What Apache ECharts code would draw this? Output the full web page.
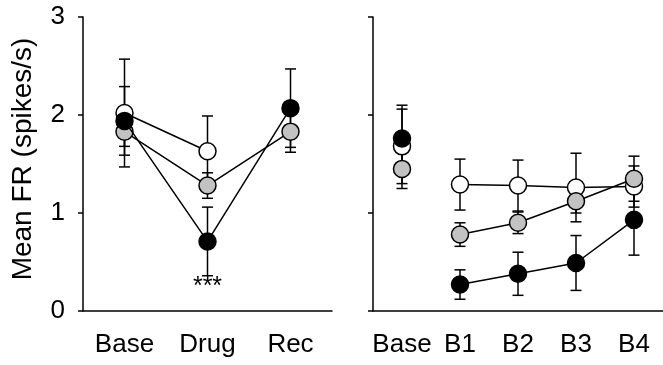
<!DOCTYPE html>
<html>
<head>
<meta charset="utf-8">
<script src="https://cdn.jsdelivr.net/npm/echarts@6/dist/echarts.min.js"></script>
<style>
html,body{margin:0;padding:0;background:#fff;}
#c{width:663px;height:365px;}
</style>
</head>
<body>
<div id="c"></div>
<script>
// ---- data ----
var leftCats = ['Base', 'Drug', 'Rec'];
var leftWhite = [2.02, 1.63, null];
var leftWhiteErr = [0.55, 0.36, null];
var leftGray = [1.83, 1.28, 1.83];
var leftGrayErr = [0.15, 0.13, 0.21];
var leftBlack = [1.94, 0.71, 2.07];
var leftBlackErr = [0.35, 0.35, 0.40];
var leftSigLabel = ['', '***', ''];

var rightCats = ['Base', 'B1', 'B2', 'B3', 'B4'];
var rightWhite = [1.68, 1.29, 1.28, 1.26, 1.27];
var rightWhiteErr = [0.38, 0.26, 0.26, 0.35, 0.21];
var rightGray = [1.45, 0.78, 0.90, 1.12, 1.35];
var rightGrayErr = [0.20, 0.12, 0.11, 0.12, 0.23];
var rightBlack = [1.76, 0.27, 0.38, 0.49, 0.93];
var rightBlackErr = [0.34, 0.15, 0.22, 0.28, 0.36];

var yTicks = [0, 1, 2, 3];
var yAxisName = 'Mean FR (spikes/s)';

// ---- styles ----
var FONT = "'Liberation Sans', Arial, sans-serif";
var fills = {white: '#ffffff', gray: '#c2c2c2', black: '#000000'};
var SYM = 17;

function errData(vals, errs) {
  var out = [];
  vals.forEach(function (v, i) {
    if (v != null && errs[i] != null) out.push([i, v - errs[i], v + errs[i]]);
  });
  return out;
}
function errRender(params, api) {
  var x = api.value(0), lo = api.value(1), hi = api.value(2);
  var pLo = api.coord([x, lo]), pHi = api.coord([x, hi]);
  var w = 5.5;
  var st = {stroke: '#000', lineWidth: 1.5};
  return {type: 'group', children: [
    {type: 'line', shape: {x1: pHi[0], y1: pHi[1], x2: pLo[0], y2: pLo[1]}, style: st},
    {type: 'line', shape: {x1: pHi[0] - w, y1: pHi[1], x2: pHi[0] + w, y2: pHi[1]}, style: st},
    {type: 'line', shape: {x1: pLo[0] - w, y1: pLo[1], x2: pLo[0] + w, y2: pLo[1]}, style: st}
  ]};
}
function errSeries(idx, vals, errs, z) {
  return {type: 'custom', xAxisIndex: idx, yAxisIndex: idx, renderItem: errRender,
    data: errData(vals, errs), z: z, silent: true};
}
function lineSeries(idx, data, color, z) {
  return {type: 'line', xAxisIndex: idx, yAxisIndex: idx, data: data,
    symbol: 'circle', symbolSize: SYM, showAllSymbol: true, connectNulls: false,
    lineStyle: {color: '#000', width: 1.5},
    itemStyle: {color: color, borderColor: '#000', borderWidth: 1.5},
    z: z, silent: true, animation: false};
}
function scatterBase(idx, v, color, z) {
  return {type: 'scatter', xAxisIndex: idx, yAxisIndex: idx, data: [[0, v]],
    symbol: 'circle', symbolSize: SYM,
    itemStyle: {color: color, borderColor: '#000', borderWidth: 1.5, opacity: 1},
    z: z, silent: true, animation: false};
}
function nz(a) { return a.map(function (v) { return v == null ? '-' : v; }); }
function dropBase(a) { return a.map(function (v, i) { return i === 0 ? '-' : v; }); }

var blackLeftData = leftBlack.map(function (v, i) {
  if (leftSigLabel[i]) {
    return {value: v, label: {show: true, formatter: leftSigLabel[i], position: 'bottom',
      distance: 24, color: '#000', fontSize: 25, fontFamily: FONT}};
  }
  return v;
});

var axisLabelStyle = {color: '#000', fontSize: 26, fontFamily: FONT};

var option = {
  animation: false,
  backgroundColor: '#fff',
  grid: [
    {left: 83, top: 17, width: 249, height: 294, containLabel: false},
    {left: 373, top: 17, width: 295, height: 294, containLabel: false}
  ],
  graphic: [
    {type: 'text', x: 23, y: 159, rotation: Math.PI / 2, silent: true,
      style: {text: yAxisName, fill: '#000', font: '28px ' + FONT,
        align: 'center', verticalAlign: 'middle'}}
  ],
  xAxis: [
    {gridIndex: 0, type: 'category', data: leftCats, boundaryGap: true,
      axisLine: {lineStyle: {color: '#000', width: 1.5}},
      axisTick: {alignWithLabel: true, interval: 0, length: 5, lineStyle: {color: '#000', width: 1.5}},
      axisLabel: Object.assign({margin: 21, interval: 0}, axisLabelStyle), splitLine: {show: false}},
    {gridIndex: 1, type: 'category', data: rightCats, boundaryGap: true,
      axisLine: {lineStyle: {color: '#000', width: 1.5}},
      axisTick: {alignWithLabel: true, interval: 0, length: 5, lineStyle: {color: '#000', width: 1.5}},
      axisLabel: Object.assign({margin: 21, interval: 0, hideOverlap: false}, axisLabelStyle), splitLine: {show: false}}
  ],
  yAxis: [
    {gridIndex: 0, type: 'value', min: yTicks[0], max: yTicks[yTicks.length - 1], interval: 1,
      axisLine: {show: true, lineStyle: {color: '#000', width: 1.5}},
      axisTick: {show: true, length: 5, lineStyle: {color: '#000', width: 1.5}},
      axisLabel: Object.assign({margin: 18}, axisLabelStyle), splitLine: {show: false}},
    {gridIndex: 1, type: 'value', min: yTicks[0], max: yTicks[yTicks.length - 1], interval: 1,
      axisLine: {show: true, lineStyle: {color: '#000', width: 1.5}},
      axisTick: {show: true, length: 5, lineStyle: {color: '#000', width: 1.5}},
      axisLabel: {show: false}, splitLine: {show: false}}
  ],
  series: [
    errSeries(0, leftWhite, leftWhiteErr, 1),
    errSeries(0, leftGray, leftGrayErr, 1),
    errSeries(0, leftBlack, leftBlackErr, 1),
    lineSeries(0, nz(leftWhite), fills.white, 2),
    lineSeries(0, nz(leftGray), fills.gray, 3),
    lineSeries(0, blackLeftData, fills.black, 4),

    errSeries(1, rightWhite, rightWhiteErr, 1),
    errSeries(1, rightGray, rightGrayErr, 1),
    errSeries(1, rightBlack, rightBlackErr, 1),
    scatterBase(1, rightWhite[0], fills.white, 2),
    scatterBase(1, rightGray[0], fills.gray, 3),
    scatterBase(1, rightBlack[0], fills.black, 4),
    lineSeries(1, dropBase(rightWhite), fills.white, 2),
    lineSeries(1, dropBase(rightGray), fills.gray, 3),
    lineSeries(1, dropBase(rightBlack), fills.black, 4)
  ]
};

var chart = echarts.init(document.getElementById('c'), null, {renderer: 'canvas'});
chart.setOption(option);
</script>
</body>
</html>
